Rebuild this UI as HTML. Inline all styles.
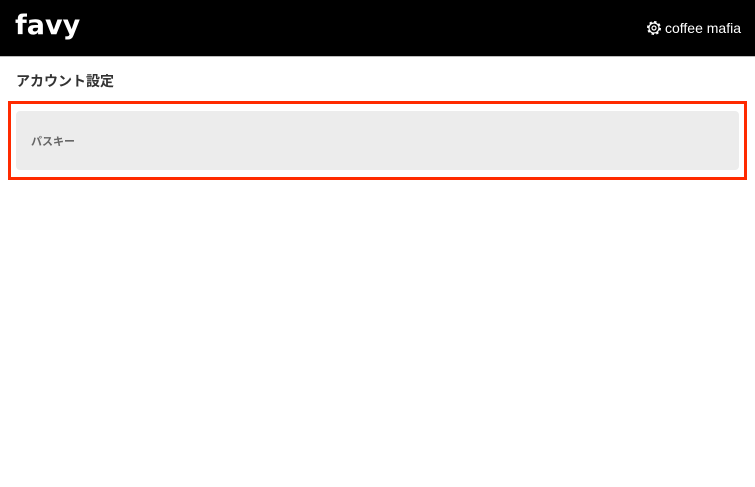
<!DOCTYPE html>
<html><head><meta charset="utf-8"><style>
body{margin:0;width:755px;height:487px;background:#fff;position:relative;overflow:hidden;font-family:"Liberation Sans","Noto Sans CJK JP",sans-serif}
.hd{position:absolute;left:0;top:0;width:755px;height:57px;background:#000;border-bottom:1px solid #bbb;box-sizing:border-box}
.logo{position:absolute;left:15px;top:10px;color:#fff;font:bold 27px "DejaVu Sans",sans-serif;letter-spacing:0px}
.user{position:absolute;right:14px;top:20px;color:#fff;font-size:14px}
.t{position:absolute;left:16px;top:71px;font-size:14px;font-weight:bold;color:#333}
.red{position:absolute;left:8px;top:101px;width:739px;height:79px;border:3px solid #ff2a00;box-sizing:border-box}
.g{position:absolute;left:16px;top:111px;width:723px;height:59px;background:#ececec;border-radius:4px}
.g span{position:absolute;left:15px;top:22px;font-size:11px;font-weight:bold;color:#666}
</style></head><body>
<div class="hd"><div class="logo">favy</div>
<div class="user"><svg width="16" height="16" viewBox="0 0 16 16" style="vertical-align:-3px;margin-right:3px"><circle cx="8" cy="8" r="6" fill="none" stroke="#fff" stroke-width="2" stroke-dasharray="2.4 2.3"/><circle cx="8" cy="8" r="5" fill="none" stroke="#fff" stroke-width="1.2"/><circle cx="8" cy="8" r="2" fill="none" stroke="#fff" stroke-width="1.2"/></svg>coffee mafia</div></div>
<div class="t">アカウント設定</div>
<div class="red"></div>
<div class="g"><span>パスキー</span></div>
</body></html>
